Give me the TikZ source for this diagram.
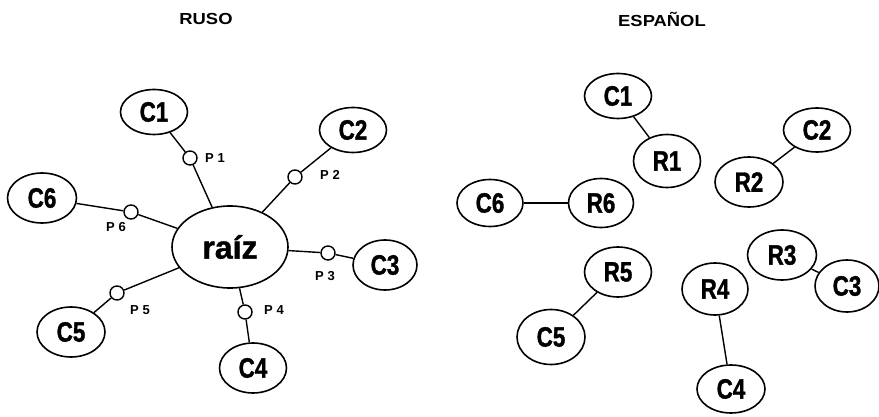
\documentclass[tikz,border=0pt]{standalone}
\usepackage{fontspec}
\setmainfont{Liberation Sans}
\newfontfamily\labfont[FakeStretch=0.8,FakeBold=1.2]{Liberation Sans}
\newfontfamily\rootfont[FakeBold=1.2]{Liberation Sans}
\newfontfamily\titlefont[FakeStretch=1.15]{Liberation Sans}
\usetikzlibrary{shapes.geometric}
\tikzset{
  cnode/.style={draw, ellipse, line width=1.6pt, inner sep=0pt, minimum width=67pt, minimum height=48pt, font=\labfont\bfseries\fontsize{28}{28}\selectfont},
  rootnode/.style={draw, ellipse, line width=1.6pt, inner sep=0pt, minimum width=116pt, minimum height=82pt, font=\rootfont\bfseries\fontsize{32}{32}\selectfont},
  port/.style={draw, circle, line width=1.4pt, inner sep=0pt, minimum size=14pt},
  plab/.style={font=\bfseries\fontsize{13}{13}\selectfont, inner sep=1pt},
  link/.style={line width=1.4pt},
  title/.style={font=\titlefont\bfseries\fontsize{16}{16}\selectfont}
}
\begin{document}
\begin{tikzpicture}[x=1pt,y=-1pt]
\useasboundingbox (0,0) rectangle (879,417);
% titles
\node[title] (truso) at (206,19) {RUSO};
\node[title] (tesp) at (662,19) {ESPAÑOL};
% left: Russian
\node[rootnode] (raiz) at (230,247) {raíz};
\node[cnode, minimum height=45pt] (lc1) at (154,112) {C1};
\node[cnode, minimum height=45pt] (lc2) at (353,130) {C2};
\node[cnode, minimum width=69pt, minimum height=50pt] (lc6) at (42,198) {C6};
\node[cnode, minimum width=64pt, minimum height=50pt] (lc3) at (385,265) {C3};
\node[cnode, minimum width=68pt, minimum height=50pt] (lc5) at (71,332) {C5};
\node[cnode, minimum width=67pt, minimum height=50pt] (lc4) at (253,368) {C4};
\node[port] (p1) at (190,158) {};
\node[port] (p2) at (295,177) {};
\node[port] (p6) at (131,212) {};
\node[port] (p3) at (328,253) {};
\node[port] (p5) at (117,293) {};
\node[port] (p4) at (245,312) {};
\node[plab] (lp1) at (215,158) {P 1};
\node[plab] (lp2) at (330,175) {P 2};
\node[plab] (lp6) at (116,227) {P 6};
\node[plab] (lp3) at (325,276) {P 3};
\node[plab] (lp5) at (140,310) {P 5};
\node[plab] (lp4) at (274,310) {P 4};
\draw[link] (lc1) -- (p1); \draw[link] (p1) -- (raiz);
\draw[link] (lc2) -- (p2); \draw[link] (p2) -- (raiz);
\draw[link] (lc6) -- (p6); \draw[link] (p6) -- (raiz);
\draw[link] (lc3) -- (p3); \draw[link] (p3) -- (raiz);
\draw[link] (lc5) -- (p5); \draw[link] (p5) -- (raiz);
\draw[link] (lc4) -- (p4); \draw[link] (p4) -- (raiz);
% right: Spanish
\node[cnode, minimum height=45pt] (rc1) at (618,96) {C1};
\node[cnode, minimum height=53pt] (rr1) at (667,161) {R1};
\node[cnode, minimum height=44pt] (rc2) at (817,130) {C2};
\node[cnode, minimum width=68pt, minimum height=50pt] (rr2) at (749,182) {R2};
\node[cnode, minimum width=66pt, minimum height=47pt] (rc6) at (490,203) {C6};
\node[cnode, minimum width=65pt, minimum height=49pt] (rr6) at (601,203) {R6};
\node[cnode, minimum height=50pt] (rr5) at (618,272) {R5};
\node[cnode, minimum width=68pt, minimum height=55pt] (rc5) at (551,337) {C5};
\node[cnode, minimum width=66pt, minimum height=52pt] (rr4) at (715,289) {R4};
\node[cnode, minimum width=68pt, minimum height=48pt] (rc4) at (731,389) {C4};
\node[cnode, minimum width=69pt, minimum height=50pt] (rr3) at (782,255) {R3};
\node[cnode, minimum width=64pt, minimum height=52pt] (rc3) at (847,286) {C3};
\draw[link] (rc1) -- (rr1);
\draw[link] (rc2) -- (rr2);
\draw[link] (rc6) -- (rr6);
\draw[link] (rr5) -- (rc5);
\draw[link] (rr4) -- (rc4);
\draw[link] (rr3) -- (rc3);
\end{tikzpicture}
\end{document}
